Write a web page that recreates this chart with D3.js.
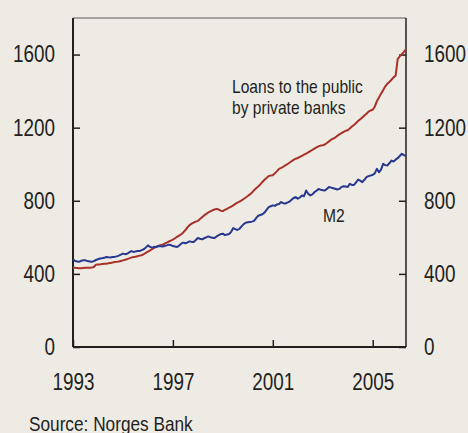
<!DOCTYPE html>
<html>
<head>
<meta charset="utf-8">
<script src="https://cdnjs.cloudflare.com/ajax/libs/d3/7.8.5/d3.min.js"></script>
<style>
  html, body { margin: 0; padding: 0; background: #eeebe5; }
  #chart text { font-family: "Liberation Sans", Arial, sans-serif; fill: #231f20; }
</style>
</head>
<body>
<div id="chart"></div>
<script>
// monthly values, Jan 1993 - May 2006 (one row per year)
var loans = [
  435, 433, 432, 431, 431, 432, 433, 433, 433, 435, 438, 450,
  451, 452, 454, 456, 456, 458, 460, 462, 465, 466, 468, 471,
  474, 477, 481, 485, 489, 492, 494, 497, 500, 502, 508, 515,
  522, 528, 535, 542, 548, 553, 557, 560, 565, 571, 577, 582,
  588, 595, 602, 609, 617, 627, 640, 655, 667, 675, 681, 686,
  690, 700, 710, 720, 728, 736, 742, 748, 752, 756, 752, 746,
  744, 750, 756, 762, 768, 775, 783, 790, 795, 802, 810, 818,
  826, 835, 845, 858, 868, 878, 890, 903, 915, 925, 935, 938,
  940, 950, 962, 975, 980, 986, 994, 1000, 1008, 1016, 1024, 1030,
  1034, 1040, 1046, 1052, 1058, 1065, 1072, 1078, 1085, 1092, 1098, 1102,
  1104, 1108, 1116, 1125, 1134, 1140, 1146, 1155, 1163, 1170, 1177, 1183,
  1186, 1196, 1206, 1215, 1226, 1236, 1246, 1256, 1266, 1276, 1288, 1294,
  1298, 1315, 1345, 1365, 1385, 1405, 1425, 1440, 1450, 1462, 1475, 1484,
  1575, 1590, 1602, 1615, 1630
];

var m2 = [
  480, 470, 468, 466, 472, 475, 474, 470, 468, 466, 470, 476,
  480, 484, 486, 488, 493, 491, 490, 492, 493, 496, 500, 505,
  511, 508, 510, 518, 525, 520, 522, 525, 525, 530, 535, 545,
  556, 548, 544, 548, 547, 553, 551, 550, 553, 556, 560, 558,
  552, 550, 547, 555, 565, 571, 568, 572, 578, 575, 575, 585,
  596, 592, 589, 595, 600, 605, 600, 598, 596, 605, 612, 618,
  620, 612, 615, 618, 630, 651, 645, 640, 647, 660, 672, 680,
  682, 684, 686, 690, 705, 718, 722, 726, 735, 750, 765, 770,
  775, 772, 780, 782, 793, 787, 785, 790, 795, 805, 815, 820,
  811, 818, 829, 825, 856, 838, 829, 835, 847, 855, 865, 860,
  858, 856, 865, 875, 872, 869, 866, 862, 865, 875, 880, 878,
  875, 893, 887, 887, 900, 916, 910, 902, 915, 929, 935, 938,
  942, 950, 975, 956, 970, 1002, 995, 993, 1005, 1020, 1015, 1025,
  1033, 1045, 1057, 1050, 1044
];

var startYear = 1993;
var yTicks = [0, 400, 800, 1200, 1600];
var xTicks = [1993, 1997, 2001, 2005];

(function(){

  var width = 468, height = 433;
  var left = 73, right = 406, top = 18, bottom = 347;

  var svg = d3.select("#chart")
    .append("svg")
    .attr("width", width)
    .attr("height", height);

  var x = d3.scaleLinear()
    .domain([startYear, startYear + (loans.length - 1) / 12])
    .range([left, right]);

  var y = d3.scaleLinear()
    .domain([0, 1800])
    .range([bottom, top]);

  // no narrow font installed, so squeeze the glyphs to look like Arial Narrow
  function narrow(sel) {
    sel.each(function(){
      var w = this.getComputedTextLength();
      d3.select(this).attr("textLength", w * 0.82).attr("lengthAdjust", "spacingAndGlyphs");
    });
  }

  // ticks point inwards, labels outside the frame
  var fmt = d3.format("d");
  var yLeft = d3.axisLeft(y).tickValues(yTicks).tickFormat(fmt).tickSizeInner(-7).tickSizeOuter(0).tickPadding(18);
  var yRight = d3.axisRight(y).tickValues(yTicks).tickFormat(fmt).tickSizeInner(-7).tickSizeOuter(0).tickPadding(18);
  var xAxis = d3.axisBottom(x).tickValues(xTicks).tickFormat(fmt)
    .tickSizeInner(-7).tickSizeOuter(0).tickPadding(27);

  function styleAxis(g) {
    g.select(".domain").remove();
    g.selectAll(".tick line").attr("stroke", "#231f20").attr("stroke-width", 1.5);
    g.selectAll(".tick text").style("font-size", "23px").call(narrow);
  }

  svg.append("g").attr("transform", "translate(" + left + ",0)").call(yLeft).call(styleAxis);
  svg.append("g").attr("transform", "translate(" + right + ",0)").call(yRight).call(styleAxis);
  svg.append("g").attr("transform", "translate(0," + bottom + ")").call(xAxis).call(styleAxis);

  // frame
  svg.append("line").attr("x1", left).attr("x2", right).attr("y1", top).attr("y2", top)
    .attr("stroke", "#8a8886").attr("stroke-width", 1.5);
  svg.append("line").attr("x1", left).attr("x2", left).attr("y1", top).attr("y2", bottom)
    .attr("stroke", "#231f20").attr("stroke-width", 2);
  svg.append("line").attr("x1", right).attr("x2", right).attr("y1", top).attr("y2", bottom)
    .attr("stroke", "#231f20").attr("stroke-width", 1.5);
  svg.append("line").attr("x1", left).attr("x2", right).attr("y1", bottom).attr("y2", bottom)
    .attr("stroke", "#231f20").attr("stroke-width", 2);

  var line = d3.line()
    .x(function(d, i){ return x(startYear + i / 12); })
    .y(function(d){ return y(d); });

  svg.append("path").datum(loans)
    .attr("fill", "none").attr("stroke", "#a8312a").attr("stroke-width", 2)
    .attr("stroke-linejoin", "round").attr("d", line);

  svg.append("path").datum(m2)
    .attr("fill", "none").attr("stroke", "#28378f").attr("stroke-width", 2)
    .attr("stroke-linejoin", "round").attr("d", line);

  // labels
  var lab = svg.append("text").attr("x", 232).attr("y", 93).style("font-size", "19px");
  lab.append("tspan").attr("x", 232).text("Loans to the public");
  lab.append("tspan").attr("x", 232).attr("dy", 21).text("by private banks");
  lab.selectAll("tspan").call(narrow);

  svg.append("text").attr("x", 323).attr("y", 222).style("font-size", "19px").text("M2").call(narrow);

  svg.append("text").attr("x", 29).attr("y", 431).style("font-size", "21px").text("Source: Norges Bank").call(narrow);

})()
</script>
</body>
</html>
